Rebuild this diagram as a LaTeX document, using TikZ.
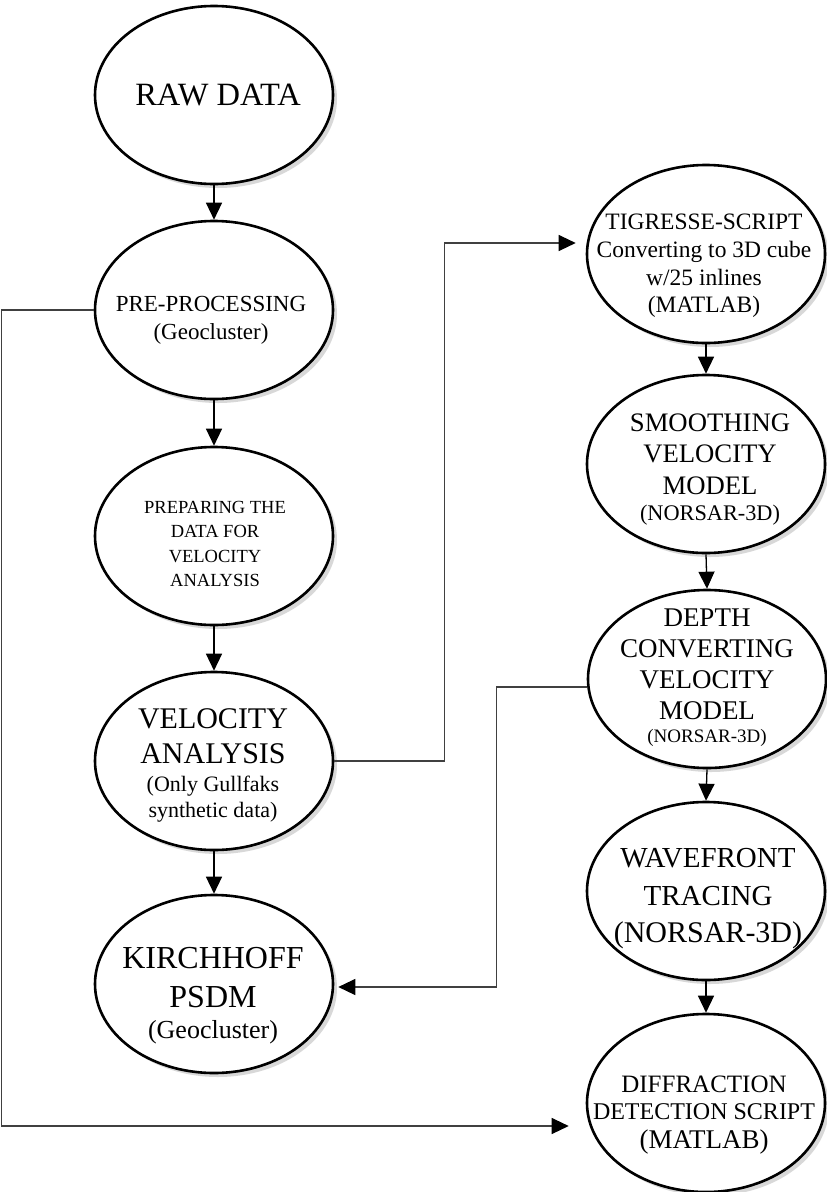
\documentclass[tikz,border=0pt]{standalone}
\usepackage{fontspec}
\setmainfont{Liberation Serif}
\usetikzlibrary{arrows.meta,shapes.geometric,shadows}

\begin{document}
\begin{tikzpicture}[x=1pt,y=-1pt,
  stage/.style={ellipse,draw,line width=2.6pt,fill=white,minimum width=238pt,minimum height=178pt,inner sep=0pt,
     drop shadow={shadow xshift=4pt,shadow yshift=-4pt,opacity=0.3}},
  txt/.style={align=center,inner sep=0pt},
  arr/.style={-{Triangle[length=17pt,width=16pt]},line width=1.3pt},
  flowback/.style={-{Triangle[length=17pt,width=16pt,color=black]},black!75,line width=1.2pt}]
  \fill[white] (0,0) rectangle (827,1192);
  \useasboundingbox (0,0) rectangle (827,1192);
  % left column
  \node[stage] (raw)  at (214,95)  {};
  \node[stage] (pre)  at (214,310) {};
  \node[stage] (prep) at (214,536) {};
  \node[stage] (vel)  at (214,761) {};
  \node[stage] (kir)  at (214,984) {};
  % right column
  \node[stage] (tig) at (706,254)  {};
  \node[stage] (smo) at (706,464)  {};
  \node[stage] (dep) at (707,679)  {};
  \node[stage] (wav) at (706,891)  {};
  \node[stage] (dif) at (706,1103) {};
  % texts
  \node[txt,font=\fontsize{32.5}{38}\selectfont] (raw-t) at (218,95) {RAW DATA};
  \node[txt,font=\fontsize{23}{28}\selectfont] (pre-t) at (211,320) {PRE-PROCESSING\\(Geocluster)};
  \node[txt,font=\fontsize{18.5}{24.3}\selectfont] (prep-t) at (215,544) {PREPARING THE\\DATA FOR\\VELOCITY\\ANALYSIS};
  \node[txt,font=\fontsize{22}{26}\selectfont] (vel-t) at (213,765)
    {{\fontsize{30}{30}\selectfont VELOCITY}\\[9pt]{\fontsize{30}{30}\selectfont ANALYSIS}\\[2pt](Only Gullfaks\\synthetic data)};
  \node[txt,font=\fontsize{26}{31}\selectfont] (kir-t) at (213,996)
    {{\fontsize{32}{32}\selectfont KIRCHHOFF}\\[8pt]{\fontsize{32}{32}\selectfont PSDM}\\(Geocluster)};
  \node[txt,font=\fontsize{23.5}{27.7}\selectfont] (tig-t) at (704,266)
    {TIGRESSE-SCRIPT\\Converting to 3D cube\\w/25 inlines\\(MATLAB)};
  \node[txt,font=\fontsize{22.3}{26}\selectfont] (smo-t) at (710,470)
    {{\fontsize{26.7}{26.7}\selectfont SMOOTHING}\\[5pt]{\fontsize{26.7}{26.7}\selectfont VELOCITY}\\[6pt]{\fontsize{26.7}{26.7}\selectfont MODEL}\\(NORSAR-3D)};
  \node[txt,font=\fontsize{19}{23}\selectfont] (dep-t) at (707,678)
    {{\fontsize{27}{27}\selectfont DEPTH}\\[8pt]{\fontsize{27}{27}\selectfont CONVERTING}\\[8pt]{\fontsize{27}{27}\selectfont VELOCITY}\\[8pt]{\fontsize{27}{27}\selectfont MODEL}\\(NORSAR-3D)};
  \node[txt,font=\fontsize{30}{37.5}\selectfont] (wav-t) at (708,899)
    {{\fontsize{29}{29}\selectfont WAVEFRONT}\\{\fontsize{29}{29}\selectfont TRACING}\\(NORSAR-3D)};
  \node[txt,font=\fontsize{24}{27}\selectfont] (dif-t) at (704,1115)
    {{\fontsize{25}{25}\selectfont DIFFRACTION}\\DETECTION SCRIPT\\[2pt]{\fontsize{27}{27}\selectfont (MATLAB)}};
  % flow down each column
  \foreach \a/\b in {raw/pre,pre/prep,prep/vel,vel/kir,tig/smo,smo/dep,dep/wav,wav/dif}
    \draw[arr] (\a.south) -- (\b.north);
  % routes between columns
  \draw[flowback] (pre.west) -- ++(-92,0) |- ([xshift=-17pt,yshift=-23pt]dif.west);
  \draw[flowback] (vel.east) -- ++(110,0) |- ([xshift=-10pt,yshift=11pt]tig.west);
  \draw[flowback] ([yshift=-8pt]dep.west) -- ++(-90,0) |- ([xshift=4pt,yshift=-3pt]kir.east);
\end{tikzpicture}
\end{document}
